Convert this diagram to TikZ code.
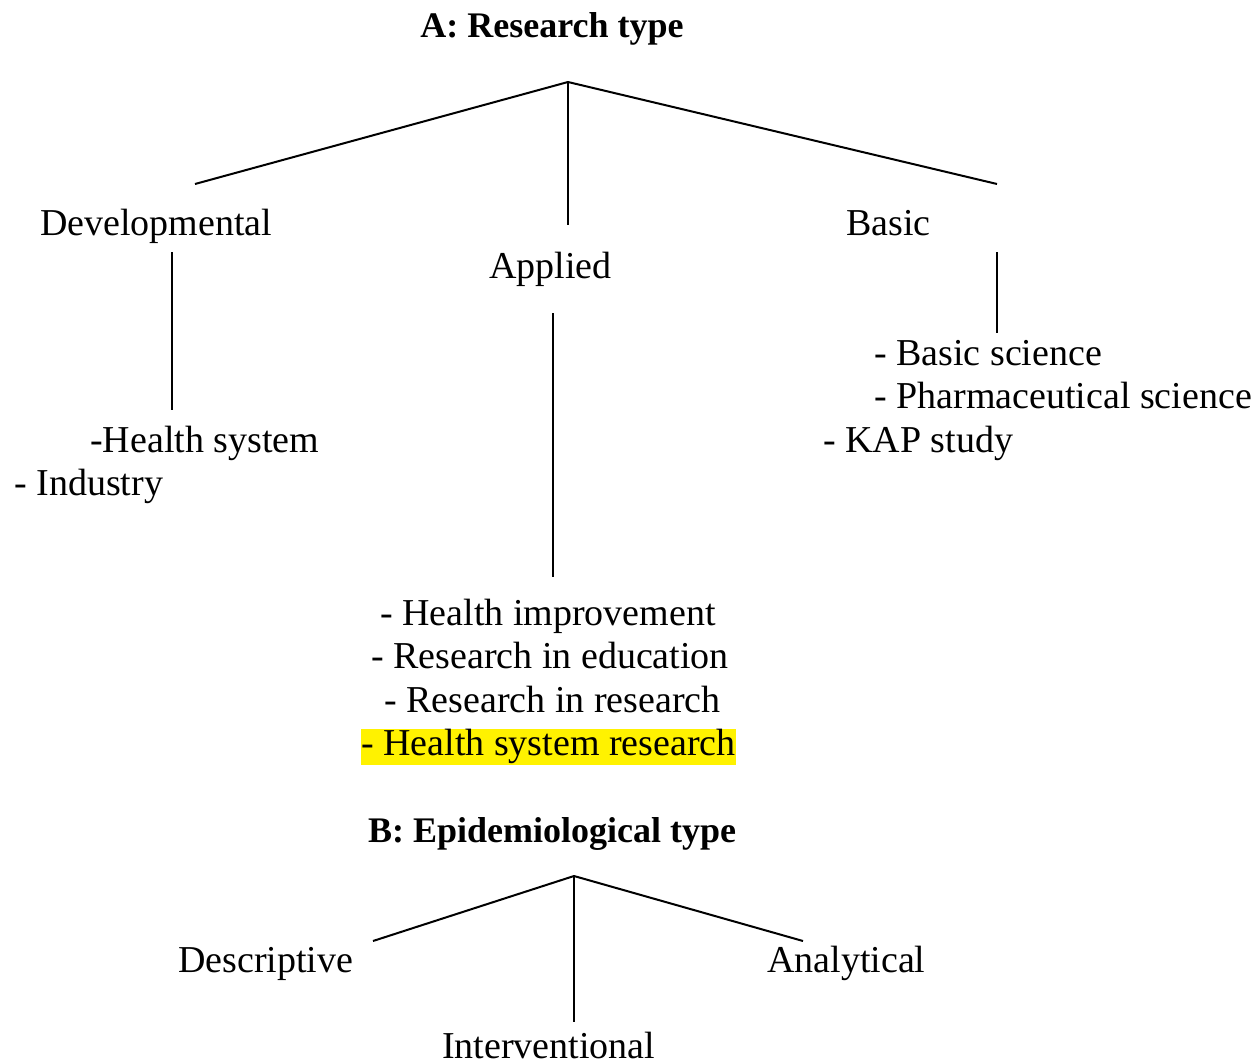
\documentclass[tikz,border=0pt]{standalone}
\usepackage{fontspec}
\setmainfont{Liberation Serif}
\begin{document}
\begin{tikzpicture}[x=1pt, y=-1pt]
    %--------------------%
    % Parameters
    %--------------------%
    \def\linethic{2pt}
    \def\fsize{38}
    \tikzset{
        txt/.style={inner sep=0pt, anchor=base west, font=\fontsize{\fsize}{46}\selectfont},
        head/.style={inner sep=0pt, anchor=base, font=\fontsize{36}{42}\selectfont\bfseries},
        branch/.style={line width=\linethic},
        marked/.style={fill=yellow, text height=26pt, text depth=10pt},
    }
    \useasboundingbox (0,0) rectangle (1258,1063);

    %--------------------%
    % A: Research type
    %--------------------%
    \node[head] (titleA) at (552,37) {A: Research type};

    \node[txt] (dev) at (40,235) {Developmental};
    \node[txt] (app) at (489,278) {Applied};
    \node[txt] (bas) at (846,235) {Basic};

    % Branch points
    \coordinate (apexA) at (568,82);
    \coordinate (devtop) at (195,184);
    \coordinate (apptop) at (568,225);
    \coordinate (bastop) at (997,184);

    \draw[branch] (apexA) -- (devtop);
    \draw[branch] (apexA) -- (apptop);
    \draw[branch] (apexA) -- (bastop);

    % Developmental
    \coordinate (devup) at (172,252);
    \coordinate (devdown) at (172,410);
    \draw[branch] (devup) -- (devdown);
    \node[txt] (hs) at (90,452) {-Health system};
    \node[txt] (ind) at (14,495) {- Industry};

    % Applied
    \coordinate (appup) at (553,313);
    \coordinate (appdown) at (553,577);
    \draw[branch] (appup) -- (appdown);
    \node[txt] (himp) at (380,625) {- Health improvement};
    \node[txt] (redu) at (371,668) {- Research in education};
    \node[txt] (rres) at (384,712) {- Research in research};
    \node[txt, marked] (hsr) at (361,755) {- Health system research};

    % Basic
    \coordinate (basup) at (997,252);
    \coordinate (basdown) at (997,333);
    \draw[branch] (basup) -- (basdown);
    \node[txt] (bsci) at (874,365) {- Basic science};
    \node[txt] (pharm) at (874,408) {- Pharmaceutical science};
    \node[txt] (kap) at (823,452) {- KAP study};

    %--------------------%
    % B: Epidemiological type
    %--------------------%
    \node[head] (titleB) at (552,842) {B: Epidemiological type};

    \node[txt] (desc) at (178,972) {Descriptive};
    \node[txt] (anal) at (767,972) {Analytical};
    \node[txt] (interv) at (442,1058) {Interventional};

    \coordinate (apexB) at (574,876);
    \coordinate (desctop) at (373,941);
    \coordinate (intervtop) at (574,1022);
    \coordinate (analtop) at (803,941);

    \draw[branch] (apexB) -- (desctop);
    \draw[branch] (apexB) -- (intervtop);
    \draw[branch] (apexB) -- (analtop);

\end{tikzpicture}
\end{document}
